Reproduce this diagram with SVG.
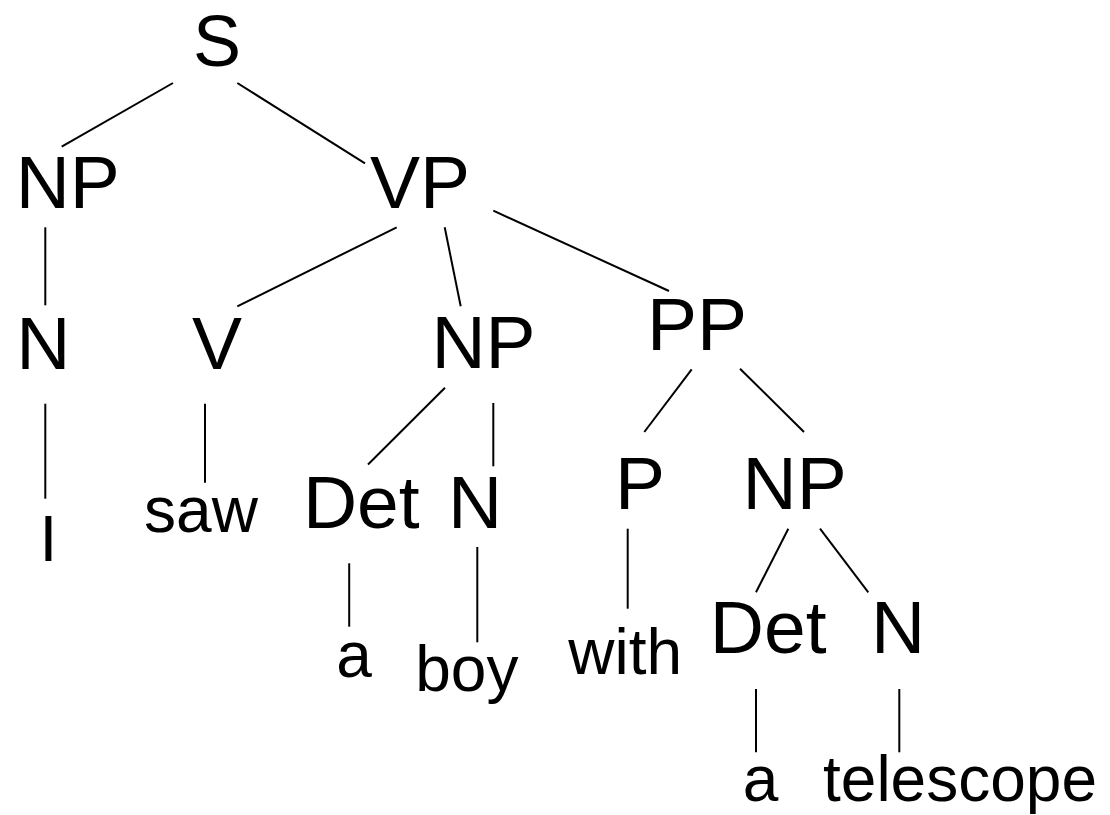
<svg xmlns="http://www.w3.org/2000/svg" width="1110" height="815" viewBox="0 0 1110 815">
<style>
text{font-family:"Liberation Sans",Arial,sans-serif;fill:#000;text-anchor:middle}
.c{font-size:75px}
.w{font-size:64px}
#edges line{stroke:#000;stroke-width:2;stroke-linecap:butt}
</style>
<rect width="1110" height="815" fill="#fff"/>
<g id="edges">
<line x1="173" y1="83" x2="61.7" y2="146.7"/>
<line x1="237.3" y1="83" x2="365" y2="163.3"/>
<line x1="45.3" y1="227.3" x2="45.3" y2="305.3"/>
<line x1="396.7" y1="227.3" x2="237.3" y2="306.3"/>
<line x1="444.7" y1="227.3" x2="460.7" y2="306.3"/>
<line x1="493.3" y1="210.7" x2="669" y2="291"/>
<line x1="45.3" y1="403.7" x2="45.3" y2="498.7"/>
<line x1="205" y1="403.7" x2="205" y2="482.7"/>
<line x1="445" y1="387.7" x2="368" y2="464.5"/>
<line x1="493.3" y1="403" x2="493.3" y2="466.3"/>
<line x1="691.7" y1="369.3" x2="644.3" y2="432"/>
<line x1="740" y1="368.7" x2="804" y2="432"/>
<line x1="349.2" y1="563.3" x2="349.2" y2="626.7"/>
<line x1="477.3" y1="547" x2="477.3" y2="642.3"/>
<line x1="627.7" y1="528.7" x2="627.7" y2="608.7"/>
<line x1="788.3" y1="528.7" x2="756" y2="592.3"/>
<line x1="820" y1="528.7" x2="868.3" y2="592.3"/>
<line x1="756" y1="689" x2="756" y2="752.3"/>
<line x1="899.3" y1="689" x2="899.3" y2="752.3"/>
</g>
<g id="S"><text x="217" y="65.5" style="font-size:72px">S</text></g>
<g id="NP1"><text class="c" x="67.8" y="207.5">NP</text></g>
<g id="VP"><text class="c" x="420" y="208">VP</text></g>
<g id="N1"><text class="c" x="43.3" y="368.5">N</text></g>
<g id="V"><text class="c" x="217" y="368.5">V</text></g>
<g id="NP2"><text class="c" x="483.5" y="368">NP</text></g>
<g id="PP"><text class="c" x="697" y="349.5">PP</text></g>
<g id="Det1"><text class="c" x="361.3" y="528.3">Det</text></g>
<g id="N2"><text class="c" x="475" y="528">N</text></g>
<g id="P"><text class="c" x="640" y="509.3">P</text></g>
<g id="NP3"><text class="c" x="794.6" y="509.3">NP</text></g>
<g id="Det2"><text class="c" x="768.2" y="653">Det</text></g>
<g id="N3"><text class="c" x="898" y="653">N</text></g>
<g id="w_I"><text class="w" x="48.5" y="560.5">I</text></g>
<g id="w_saw"><text class="w" x="201" y="531.7">saw</text></g>
<g id="w_a1"><text class="w" x="354" y="676.7">a</text></g>
<g id="w_boy"><text class="w" x="466.8" y="691.3">boy</text></g>
<g id="w_with"><text class="w" x="625.2" y="674">with</text></g>
<g id="w_a2"><text class="w" x="760.5" y="801.3">a</text></g>
<g id="w_telescope"><text class="w" x="960" y="801.3">telescope</text></g>
</svg>
